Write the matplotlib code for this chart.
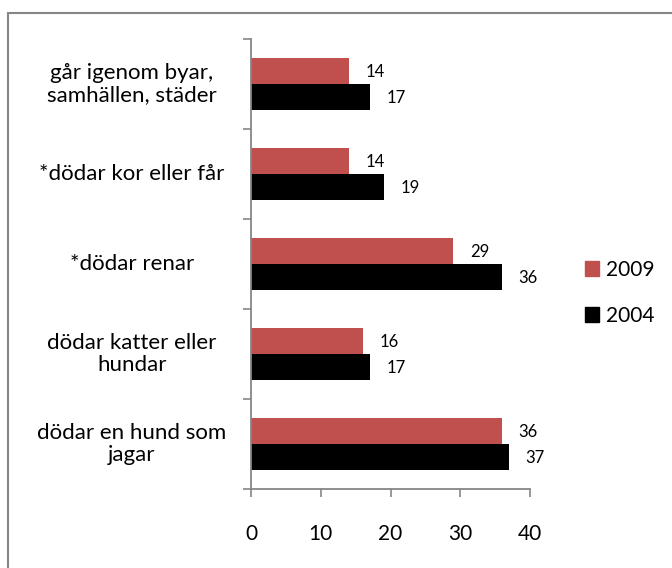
import matplotlib
matplotlib.use("Agg")
import matplotlib.pyplot as plt
from matplotlib.patches import Patch, Rectangle
from matplotlib.transforms import blended_transform_factory
import numpy as np

plt.rcParams['font.family'] = ['Lato', 'DejaVu Sans']

# ── data ──────────────────────────────────────────────────────────────
categories = [
    "går igenom byar,\nsamhällen, städer",
    "*dödar kor eller får",
    "*dödar renar",
    "dödar katter eller\nhundar",
    "dödar en hund som\njagar",
]
values_2009 = [14, 14, 29, 16, 36]
values_2004 = [17, 19, 36, 17, 37]
series_labels = ["2009", "2004"]
xticks = [0, 10, 20, 30, 40]

RED = "#C0504D"
BLACK = "#000000"
GRAY = "#868686"

W, H = 672, 568
fig = plt.figure(figsize=(W / 100, H / 100), dpi=100)
ax = fig.add_axes([251 / W, 1 - 489 / H, (530 - 251) / W, (489 - 39) / H])

y = np.arange(len(categories))
h = 0.29
b1 = ax.barh(y - h / 2, values_2009, height=h, color=RED, label=series_labels[0])
b2 = ax.barh(y + h / 2, values_2004, height=h, color=BLACK, label=series_labels[1])

# data labels
for bars, vals in [(b1, values_2009), (b2, values_2004)]:
    for rect, v in zip(bars, vals):
        ax.annotate(str(v), (v, rect.get_y() + rect.get_height() / 2),
                    xytext=(12, -1), textcoords="offset points",
                    ha="left", va="center", fontsize=12)

ax.set_xlim(0, 40)
ax.set_ylim(len(categories) - 0.5, -0.5)
ax.set_xticks(xticks)
ax.set_xticklabels([str(t) for t in xticks], fontsize=15)
ax.set_yticks(np.arange(len(categories) + 1) - 0.5)
ax.set_yticklabels([])
ax.tick_params(axis="x", direction="out", length=6, width=1.2, color=GRAY, pad=19)
ax.tick_params(axis="y", direction="out", length=6, width=1.2, color=GRAY)

for s in ["top", "right"]:
    ax.spines[s].set_visible(False)
for s in ["left", "bottom"]:
    ax.spines[s].set_color(GRAY)
    ax.spines[s].set_linewidth(1.3)

# category labels, centered in the space left of the axis
trans = blended_transform_factory(fig.transFigure, ax.transData)
for yi, lab in zip(y, categories):
    ax.text(132 / W, yi, lab, transform=trans, ha="center", va="center",
            multialignment="center", fontsize=16, linespacing=1.15)

# legend
handles = [Patch(color=RED), Patch(color=BLACK)]
fig.legend(handles, series_labels, loc="center left",
           bbox_to_anchor=(566 / W, 1 - 293 / H), frameon=False,
           fontsize=15, handlelength=0.7, handleheight=0.7,
           handletextpad=0.3, labelspacing=1.25)

# chart border (cut off at right and bottom)
fig.add_artist(Rectangle((8 / W, -0.1), 1.2, 1 - 13 / H + 0.1,
                         transform=fig.transFigure, fill=False,
                         edgecolor=GRAY, linewidth=1.5, clip_on=False))

fig.savefig("out.png", dpi=100)
